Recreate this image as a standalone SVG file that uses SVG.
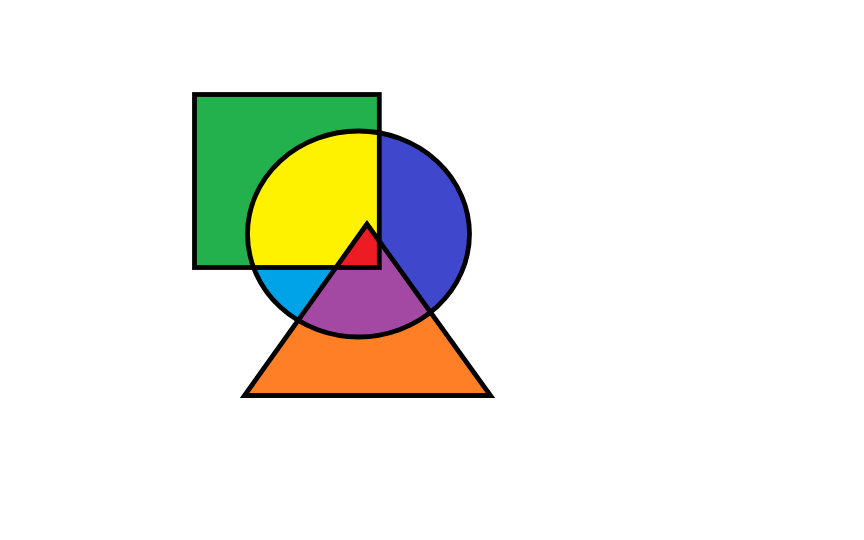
<svg xmlns="http://www.w3.org/2000/svg" width="864" height="540" viewBox="0 0 864 540">
  <style>
    .outline { fill: none; stroke: #000000; stroke-width: 4.8; stroke-linejoin: miter; }
  </style>
  <defs>
    <clipPath id="clipSquare"><rect x="194.5" y="94.5" width="184.8" height="173"/></clipPath>
    <clipPath id="clipCircle"><ellipse cx="358.5" cy="234" rx="111" ry="103"/></clipPath>
  </defs>
  <rect width="864" height="540" fill="#ffffff"/>
  <g id="fills">
    <rect x="194.5" y="94.5" width="184.8" height="173" fill="#22B14C"/>
    <ellipse cx="358.5" cy="234" rx="111" ry="103" fill="#3F48CC"/>
    <polygon points="367,224 244.5,395.5 490.5,395.5" fill="#FF7F27"/>
    <g clip-path="url(#clipCircle)">
      <rect x="194.5" y="94.5" width="184.8" height="173" fill="#FFF200"/>
      <rect x="230" y="267.5" width="137" height="90" fill="#00A2E8"/>
      <polygon points="367,224 244.5,395.5 490.5,395.5" fill="#A349A4"/>
    </g>
    <g clip-path="url(#clipSquare)">
      <polygon points="367,224 244.5,395.5 490.5,395.5" fill="#ED1C24"/>
    </g>
  </g>
  <g id="outlines">
    <rect id="square" class="outline" x="194.5" y="94.5" width="184.8" height="173"/>
    <ellipse id="circle" class="outline" cx="358.5" cy="234" rx="111" ry="103"/>
    <polygon id="triangle" class="outline" points="367,224 244.5,395.5 490.5,395.5"/>
  </g>
</svg>
